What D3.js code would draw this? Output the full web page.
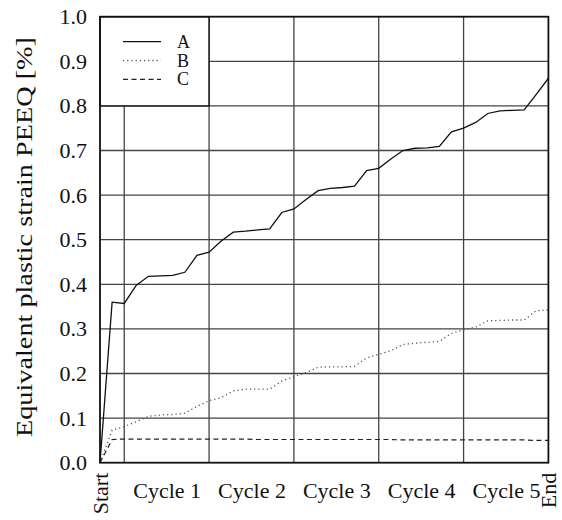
<!DOCTYPE html>
<html>
<head>
<meta charset="utf-8">
<script src="https://cdn.jsdelivr.net/npm/d3@7"></script>
<style>
  html, body { margin: 0; padding: 0; background: #fff; }
  svg { display: block; }
</style>
</head>
<body>
<script>
// Load steps: 0 = start, 1 = initial loading, then five cycles of 7 steps each.
const steps = [0, 1, 2, 3, 4, 5, 6, 7, 8, 9, 10, 11, 12, 13, 14, 15, 16, 17, 18, 19,
               20, 21, 22, 23, 24, 25, 26, 27, 28, 29, 30, 31, 32, 33, 34, 35, 36, 37];

const seriesNames = ["A", "B", "C"];

// Equivalent plastic strain PEEQ [%] at each step
const strainA = [0, 0.360, 0.357, 0.398, 0.418, 0.419, 0.420, 0.427, 0.465, 0.472,
                 0.497, 0.517, 0.519, 0.522, 0.524, 0.561, 0.569, 0.590, 0.610, 0.615,
                 0.617, 0.620, 0.655, 0.660, 0.681, 0.700, 0.705, 0.706, 0.709, 0.742,
                 0.750, 0.763, 0.783, 0.789, 0.790, 0.791, 0.826, 0.862];
const strainB = [0, 0.073, 0.081, 0.092, 0.104, 0.107, 0.108, 0.111, 0.126, 0.139,
                 0.146, 0.161, 0.165, 0.165, 0.165, 0.183, 0.193, 0.202, 0.214, 0.215,
                 0.215, 0.216, 0.235, 0.243, 0.251, 0.265, 0.268, 0.270, 0.272, 0.290,
                 0.298, 0.304, 0.318, 0.319, 0.320, 0.320, 0.341, 0.342];
const strainC = [0, 0.052, 0.053, 0.053, 0.053, 0.053, 0.053, 0.053, 0.053, 0.053,
                 0.053, 0.053, 0.053, 0.052, 0.052, 0.052, 0.052, 0.052, 0.052, 0.052,
                 0.052, 0.052, 0.052, 0.052, 0.052, 0.051, 0.051, 0.051, 0.051, 0.051,
                 0.051, 0.051, 0.051, 0.051, 0.051, 0.051, 0.050, 0.050];

// Cycle boundaries (steps) and axis labels
const cycleBounds = [2, 9, 16, 23, 30];
const xTickSteps = [0, 5.5, 12.5, 19.5, 26.5, 33.5, 37];
const xTickLabels = ["Start", "Cycle 1", "Cycle 2", "Cycle 3", "Cycle 4", "Cycle 5", "End"];
const yTicks = [0.0, 0.1, 0.2, 0.3, 0.4, 0.5, 0.6, 0.7, 0.8, 0.9, 1.0];
const yTitle = "Equivalent plastic strain PEEQ [%]";

const W = 562, H = 520;
const FONT = "\"Liberation Serif\"";

const x = d3.scaleLinear().domain([0, 37]).range([100, 548.4]);
const y = d3.scaleLinear().domain([0, 1]).range([462.7, 16.7]);

const svg = d3.select("body").append("svg")
  .attr("width", W).attr("height", H);

// Grid
const grid = svg.append("g").attr("stroke", "#444").attr("stroke-width", 1.3);
grid.selectAll("line.h")
  .data(yTicks.filter(v => v > 0 && v < 1))
  .join("line").attr("class", "h")
  .attr("x1", x(0)).attr("x2", x(37))
  .attr("y1", d => y(d)).attr("y2", d => y(d));
grid.selectAll("line.v")
  .data(cycleBounds)
  .join("line").attr("class", "v")
  .attr("x1", d => x(d)).attr("x2", d => x(d))
  .attr("y1", y(0)).attr("y2", y(1));

// Series lines
const series = [
  { name: seriesNames[0], values: strainA, dash: null, color: "#111", width: 1.3 },
  { name: seriesNames[1], values: strainB, dash: "1.2,3", color: "#555", width: 1.3 },
  { name: seriesNames[2], values: strainC, dash: "5,3.5", color: "#222", width: 1.2 }
];
const line = d3.line().x((d, i) => x(steps[i])).y(d => y(d));
svg.append("g").selectAll("path")
  .data(series)
  .join("path")
  .attr("fill", "none")
  .attr("stroke", d => d.color)
  .attr("stroke-width", d => d.width)
  .attr("stroke-dasharray", d => d.dash)
  .attr("d", d => line(d.values));

// Legend
const lg = svg.append("g");
lg.append("rect")
  .attr("x", x(0)).attr("y", y(1))
  .attr("width", 109).attr("height", y(0.8) - y(1))
  .attr("fill", "#fff").attr("stroke", "#111").attr("stroke-width", 1.4);
series.forEach((s, i) => {
  const ly = 41.7 + i * 18.8;
  lg.append("line")
    .attr("x1", 123).attr("x2", 161).attr("y1", ly).attr("y2", ly)
    .attr("stroke", s.color).attr("stroke-width", s.width)
    .attr("stroke-dasharray", s.dash);
  lg.append("text")
    .attr("x", 177).attr("y", ly + 6)
    .style("font-family", FONT)
    .style("font-size", "18px").attr("fill", "#111")
    .text(s.name);
});

// Frame
svg.append("rect")
  .attr("x", x(0)).attr("y", y(1))
  .attr("width", x(37) - x(0)).attr("height", y(0) - y(1))
  .attr("fill", "none").attr("stroke", "#111").attr("stroke-width", 1.8);

// Y axis
const yAxis = svg.append("g")
  .attr("transform", `translate(${x(0)},0)`)
  .call(d3.axisLeft(y).tickValues(yTicks).tickFormat(d3.format(".1f")).tickSize(0).tickPadding(13));
yAxis.select(".domain").remove();
yAxis.attr("font-family", null).attr("font-size", null);
yAxis.selectAll("text")
  .style("font-family", FONT).style("font-size", "22px").attr("fill", "#111");

// X axis
const xAxis = svg.append("g")
  .attr("transform", `translate(0,${y(0)})`)
  .call(d3.axisBottom(x).tickValues(xTickSteps)
    .tickFormat((d, i) => xTickLabels[i]).tickSize(0).tickPadding(20));
xAxis.select(".domain").remove();
xAxis.attr("font-family", null).attr("font-size", null);
xAxis.selectAll("text")
  .style("font-family", FONT).style("font-size", "22px").attr("fill", "#111");
xAxis.selectAll(".tick text")
  .filter((d, i) => i === 0 || i === xTickSteps.length - 1)
  .attr("transform", "rotate(-90)")
  .attr("text-anchor", "end")
  .attr("x", -10).attr("y", 7.5).attr("dy", 0);

// Y axis title
svg.append("text")
  .attr("transform", "translate(32,237) rotate(-90)")
  .attr("text-anchor", "middle")
  .style("font-family", FONT)
  .style("font-size", "24px")
  .attr("fill", "#111")
  .attr("textLength", 400)
  .attr("lengthAdjust", "spacingAndGlyphs")
  .text(yTitle);
</script>
</body>
</html>
